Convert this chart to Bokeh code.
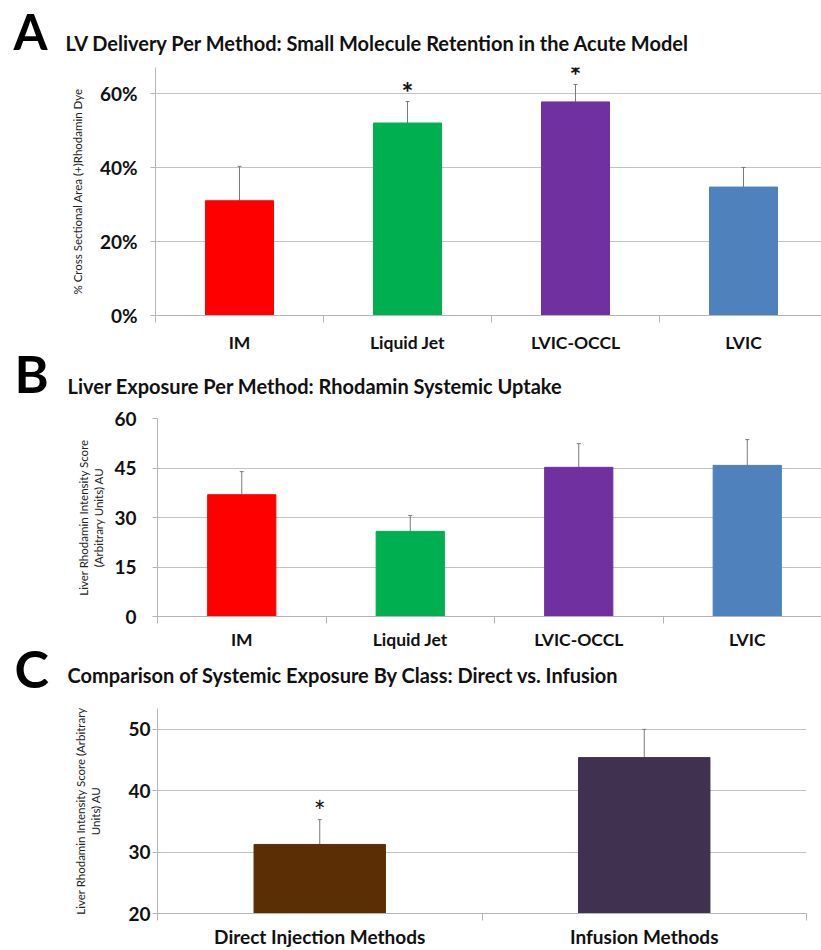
from bokeh.plotting import figure
from bokeh.layouts import column, row
from bokeh.models import (Range1d, FixedTicker, NumeralTickFormatter, Label,
                          ColumnDataSource, Whisker, TeeHead)
from bokeh.embed import file_html
from bokeh.resources import INLINE
from bokeh.core.properties import value

FONT = "Lato"

# ---------------- data ----------------
a_methods = ["IM", "Liquid Jet", "LVIC-OCCL", "LVIC"]
a_values = [0.31, 0.52, 0.577, 0.347]
a_errors = [0.093, 0.058, 0.047, 0.053]
a_signif = [False, True, True, False]
a_colors = ["#FF0000", "#00B050", "#7030A0", "#4F81BD"]
a_yticks = [0, 0.2, 0.4, 0.6]

b_methods = ["IM", "Liquid Jet", "LVIC-OCCL", "LVIC"]
b_values = [36.9, 25.8, 45.2, 45.8]
b_errors = [7.0, 4.8, 7.2, 7.8]
b_signif = [False, False, False, False]
b_colors = ["#FF0000", "#00B050", "#7030A0", "#4F81BD"]
b_yticks = [0, 15, 30, 45, 60]

c_classes = ["Direct Injection Methods", "Infusion Methods"]
c_values = [31.25, 45.4]
c_errors = [4.05, 4.6]
c_signif = [True, False]
c_colors = ["#5C2E06", "#403151"]
c_yticks = [20, 30, 40, 50]

GRID = "#c3c3c3"
AXIS = "#b5b5b5"
ERR = "#7a7a7a"
STRIP = 60          # width of the left strip holding the panel letters
W = 821 - STRIP     # width of the chart column
H = 950


def letters_strip():
    p = figure(width=STRIP, height=H, x_range=Range1d(0, STRIP),
               y_range=Range1d(0, H), x_axis_type=None, y_axis_type=None,
               output_backend="svg", toolbar_location=None, min_border=0,
               frame_align=False)
    p.outline_line_color = None
    p.grid.grid_line_color = None
    for txt, size, x, y in (("A", "49px", 13, 920), ("B", "52px", 14, 578),
                            ("C", "52px", 14, 283)):
        p.add_layout(Label(x=x, y=y, x_units="screen", y_units="screen",
                           text=txt, text_font=FONT, text_font_size=size,
                           text_font_style="bold", text_align="left",
                           text_baseline="alphabetic", text_color="black"))
    return p


def header(h, title, title_x, title_y):
    p = figure(width=W, height=h, x_range=Range1d(0, W), y_range=Range1d(0, h),
               x_axis_type=None, y_axis_type=None, output_backend="svg",
               toolbar_location=None, min_border=0, frame_align=False)
    p.outline_line_color = None
    p.grid.grid_line_color = None
    p.add_layout(Label(x=title_x, y=title_y, x_units="screen", y_units="screen",
                       text=title, text_font=FONT, text_font_size="20px",
                       text_font_style="bold", text_align="left",
                       text_baseline="alphabetic", text_color="#111111"))
    return p


def panel(cats, vals, errs, sig, colors, yticks, ylim, xmax, h,
          bl, br, bt, bb, ylabel, cat_size, lab_standoff, tick_standoff,
          ylab_standoff, pct=False, star_bold=True, star_off=-10):
    n = len(cats)
    xs = list(range(1, n + 1))
    p = figure(width=W, height=h,
               x_range=Range1d(0.5, xmax), y_range=Range1d(*ylim),
               output_backend="svg", toolbar_location=None, frame_align=False,
               min_border_left=bl, min_border_right=br,
               min_border_top=bt, min_border_bottom=bb)
    p.outline_line_color = None
    p.background_fill_color = "white"
    p.border_fill_color = "white"
    p.xgrid.grid_line_color = None
    p.ygrid.ticker = FixedTicker(ticks=yticks)
    p.ygrid.grid_line_color = GRID
    p.ygrid.grid_line_width = 1

    src = ColumnDataSource(dict(x=xs, top=vals, color=colors,
                                upper=[v + e for v, e in zip(vals, errs)]))
    p.vbar(x="x", top="top", bottom=0, width=0.405, color="color", source=src)
    w = Whisker(source=src, base="x", lower="top", upper="upper",
                dimension="height", line_color=ERR, line_width=1,
                lower_head=None,
                upper_head=TeeHead(size=4, line_color=ERR, line_width=1))
    p.add_layout(w)

    sx = [x for x, s in zip(xs, sig) if s]
    sy = [v + e for v, e, s in zip(vals, errs, sig) if s]
    if sx:
        p.text(x=sx, y=sy, text=["*"] * len(sx), text_font=value(FONT),
               text_font_size="28px",
               text_font_style="bold" if star_bold else "normal",
               text_align="center", text_baseline="middle", y_offset=star_off,
               text_color="#111111")

    # y axis
    ya = p.yaxis[0]
    ya.ticker = FixedTicker(ticks=yticks)
    if pct:
        ya.formatter = NumeralTickFormatter(format="0%")
    ya.major_tick_out = 5
    ya.major_tick_in = 0
    ya.minor_tick_line_color = None
    ya.axis_line_color = AXIS
    ya.major_tick_line_color = AXIS
    ya.major_label_text_font = FONT
    ya.major_label_text_font_size = "19px"
    ya.major_label_text_font_style = "bold"
    ya.major_label_text_color = "#111111"
    ya.major_label_standoff = tick_standoff
    ya.axis_label = ylabel
    ya.axis_label_text_font = FONT
    ya.axis_label_text_font_size = "11.5px"
    ya.axis_label_text_font_style = "normal"
    ya.axis_label_text_color = "#222222"
    ya.axis_label_standoff = ylab_standoff

    # x axis
    xa = p.xaxis[0]
    xa.ticker = FixedTicker(ticks=xs, minor_ticks=[x - 0.5 for x in xs] + [n + 0.5])
    xa.major_label_overrides = {x: c for x, c in zip(xs, cats)}
    xa.major_tick_line_color = None
    xa.major_tick_out = 0
    xa.major_tick_in = 0
    xa.minor_tick_out = 7
    xa.minor_tick_in = 0
    xa.minor_tick_line_color = AXIS
    xa.axis_line_color = AXIS
    xa.major_label_text_font = FONT
    xa.major_label_text_font_size = cat_size
    xa.major_label_text_font_style = "bold"
    xa.major_label_text_color = "#111111"
    xa.major_label_standoff = lab_standoff
    return p


# Panel A  (header 0..55, plot 55..355; frame x 155..821, y 67..315)
hA = header(55, "LV Delivery Per Method: Small Molecule Retention in the Acute Model",
            65 - STRIP, 13)
pA = panel(a_methods, a_values, a_errors, a_signif, a_colors, a_yticks,
           (0, 0.67), 0.5 + 666 / 168, 300, 155 - STRIP, 0, 12, 40,
           "% Cross Sectional Area (+)Rhodamin Dye",
           "17.5px", 9, 13, 13, pct=True)

# Panel B  (header 355..402, plot 402..652; frame x 157..821, y 418..616)
hB = header(47, "Liver Exposure Per Method: Rhodamin Systemic  Uptake",
            67 - STRIP, 17)
pB = panel(b_methods, b_values, b_errors, b_signif, b_colors, b_yticks,
           (0, 60), 0.5 + 664 / 168.5, 250, 157 - STRIP, 0, 16, 36,
           "Liver Rhodamin Intensity Score\n(Arbitrary Units) AU",
           "17.5px", 5, 16, 6)

# Panel C  (header 652..700, plot 700..950; frame x 157..806, y 708..913)
hC = header(48, "Comparison of Systemic Exposure By Class: Direct vs. Infusion",
            67 - STRIP, 26)
pC = panel(c_classes, c_values, c_errors, c_signif, c_colors, c_yticks,
           (20, 53.4), 2.5, 250, 157 - STRIP, 15, 8, 37,
           "Liver Rhodamin Intensity Score (Arbitrary\nUnits) AU",
           "19px", 4, 2, 23, star_bold=False, star_off=-9)

layout = row(letters_strip(), column(hA, pA, hB, pB, hC, pC))
open("out.html", "w").write(file_html(layout, INLINE))
